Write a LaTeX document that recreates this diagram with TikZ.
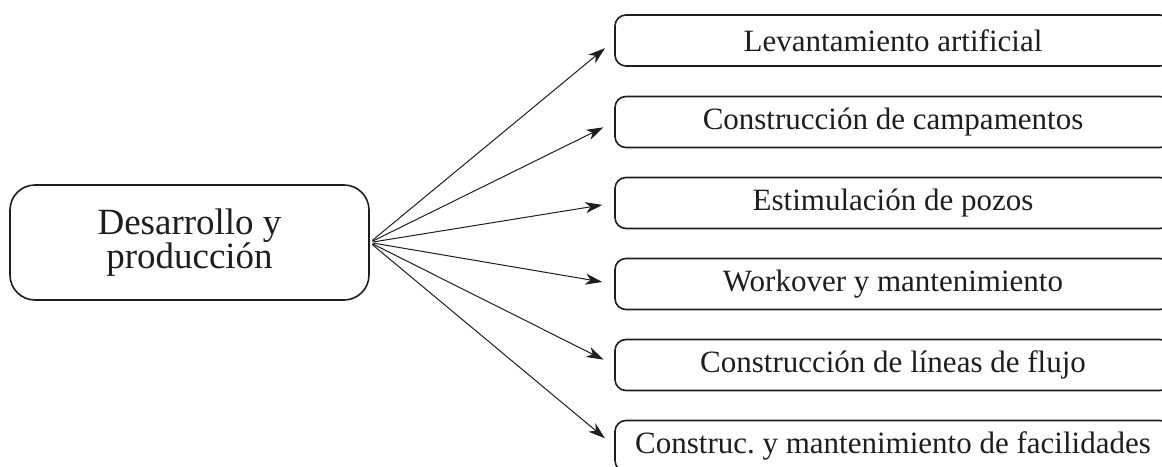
\documentclass[tikz,border=0pt]{standalone}
\usepackage{fontspec}
\setmainfont{Liberation Serif}
\usetikzlibrary{arrows.meta}
\definecolor{ink}{HTML}{1E1E1E}
\tikzset{
  srcbox/.style={draw=ink, line width=1.6pt, rounded corners=25pt,
    minimum width=359pt, minimum height=115pt, align=center,
    text=ink, font=\fontsize{37}{33}\selectfont, inner sep=0pt},
  taskbox/.style={draw=ink, line width=1.6pt, rounded corners=11pt,
    minimum width=556pt, minimum height=51pt, text=ink,
    font=\fontsize{31}{30}\selectfont, inner sep=0pt},
  link/.style={draw=ink, line width=1pt,
    -{Stealth[length=17pt, width=11pt, inset=5pt]},
    shorten >=12pt, shorten <=3pt}
}
\begin{document}
\begin{tikzpicture}[x=1pt, y=-1pt]
  \useasboundingbox (0,0) rectangle (1162,466);
  \clip (0,0) rectangle (1162,466);
  % source block on the left
  \node[srcbox] (src) at (189.5,242.5) {Desarrollo y\\producción};
  % activity blocks on the right
  \node[taskbox] (t1) at (893,40.5) {Levantamiento artificial};
  \node[taskbox] (t2) at (893,122) {Construcción de campamentos};
  \node[taskbox] (t3) at (893,203) {Estimulación de pozos};
  \node[taskbox] (t4) at (893,284) {Workover y mantenimiento};
  \node[taskbox] (t5) at (893,365) {Construcción de líneas de flujo};
  \node[taskbox] (t6) at (893,446) {Construc.\ y mantenimiento de facilidades};
  % connectors
  \foreach \t in {t1,t2,t3,t4,t5,t6}
    \draw[link] (src.east) -- (\t.west);
\end{tikzpicture}
\end{document}
